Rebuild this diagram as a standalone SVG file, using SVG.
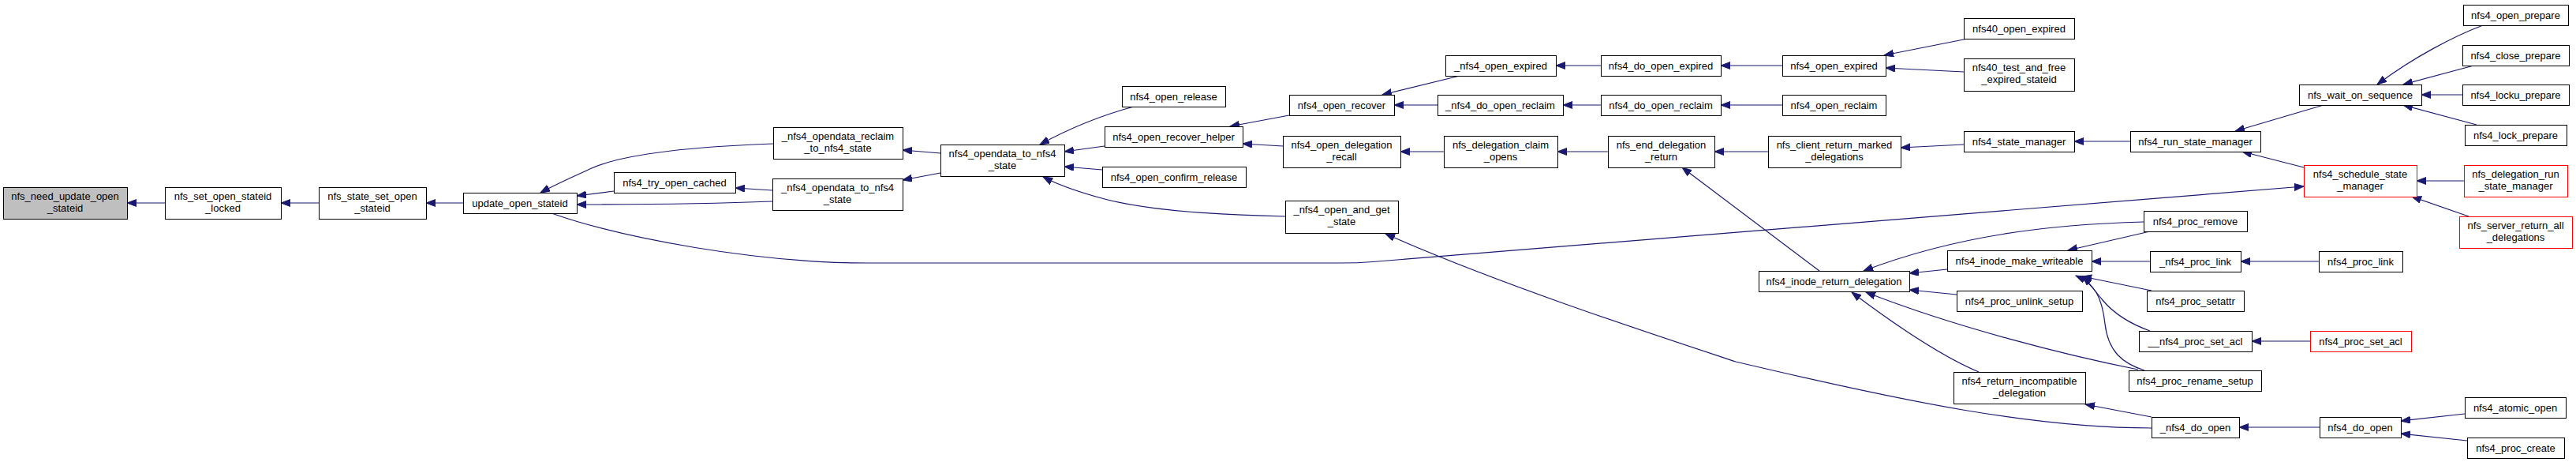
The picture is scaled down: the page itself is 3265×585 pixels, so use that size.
<svg xmlns="http://www.w3.org/2000/svg" width="3265" height="585" viewBox="0 0 3265 585">
<style>
.n rect{fill:#fff;stroke:#000;stroke-width:1}
.g rect{fill:#bfbfbf}
.r rect{stroke:#f00}
text{font-family:"Liberation Sans",Arial,sans-serif;font-size:13px;text-anchor:middle;fill:#000}
.e path{fill:none;stroke:#191970;stroke-width:1.2;marker-end:url(#a)}
</style>
<defs>
<marker id="a" markerUnits="userSpaceOnUse" markerWidth="13" markerHeight="10" refX="12" refY="4.5" orient="auto">
<path d="M0,0 L12,4.5 L0,9 z" fill="#191970" stroke="#191970" stroke-width="1"/>
</marker>
</defs>
<rect width="3265" height="585" fill="#fff"/>
<g id="edges" class="e">
<path d="M209,257 L161,257"/>
<path d="M404,257 L356,257"/>
<path d="M587,257 L540,257"/>
<path d="M980,182 C870,186 790,195 750,213 C730,222 705,233 685,244"/>
<path d="M778,242 L731,248"/>
<path d="M979,255 C880,259 800,259 731,259"/>
<path d="M979,241 L932,238"/>
<path d="M1192,194 L1144,190"/>
<path d="M1192,219 L1144,228"/>
<path d="M1437,135 C1400,145 1360,160 1318,183"/>
<path d="M1400,185 L1349,192"/>
<path d="M1397,215 L1349,211"/>
<path d="M1629,274 C1530,272 1450,265 1400,252 C1370,244 1345,236 1322,224"/>
<path d="M1634,146 L1559,160"/>
<path d="M1626,185 L1575,182"/>
<path d="M1850,96 L1752,120"/>
<path d="M1822,133 L1767,133"/>
<path d="M2029,83 L1972,83"/>
<path d="M2029,133 L1981,133"/>
<path d="M1830,192 L1775,192"/>
<path d="M2038,192 L1974,192"/>
<path d="M2241,192 L2173,192"/>
<path d="M2306,343 L2132,212"/>
<path d="M2259,83 L2181,83"/>
<path d="M2259,133 L2181,133"/>
<path d="M2494,49 L2388,70"/>
<path d="M2489,91 L2390,86"/>
<path d="M2489,183 L2409,187"/>
<path d="M2700,179 L2629,179"/>
<path d="M2945,133 L2833,166"/>
<path d="M2920,212 L2842,192"/>
<path d="M3147,32 C3110,46 3060,72 3013,107"/>
<path d="M3139,82 L3046,107"/>
<path d="M3121,120 L3069,120"/>
<path d="M3139,158 L3046,133"/>
<path d="M3123,229 L3063,229"/>
<path d="M3129,274 L3057,249"/>
<path d="M699,270 C790,302 960,333 1100,333 L1700,333 Q1720,333 1740,331.5 L2920,236"/>
<path d="M2727,542 C2580,542 2420,510 2200,458 C2100,425 1900,360 1756,296"/>
<path d="M2727,528 L2643,512"/>
<path d="M2508,471 C2470,455 2420,425 2347,370"/>
<path d="M2468,341 L2420,346"/>
<path d="M2480,373 L2420,367"/>
<path d="M2710,468 C2620,450 2480,415 2365,370"/>
<path d="M2717,281 C2600,284 2480,298 2362,343"/>
<path d="M2725,293 L2621,317"/>
<path d="M2725,331 L2651,331"/>
<path d="M2727,368 L2639,350"/>
<path d="M2725,419 C2700,410 2680,398 2665,380 C2655,368 2648,358 2640,350"/>
<path d="M2718,469 C2690,460 2672,445 2668,410 C2664,375 2655,360 2631,349"/>
<path d="M2939,331 L2840,331"/>
<path d="M2928,432 L2854,432"/>
<path d="M2940,541 L2838,541"/>
<path d="M3124,524 L3043,533"/>
<path d="M3127,558 L3043,549"/>
</g>
<g id="n0" class="n g"><rect x="4.5" y="237.5" width="157" height="40"/><text x="82.5" y="252.5">nfs_need_update_open</text><text x="82.5" y="267.5">_stateid</text></g>
<g id="n1" class="n"><rect x="209.5" y="237.5" width="147" height="40"/><text x="282.5" y="252.5">nfs_set_open_stateid</text><text x="282.5" y="267.5">_locked</text></g>
<g id="n2" class="n"><rect x="404.5" y="237.5" width="136" height="40"/><text x="472" y="252.5">nfs_state_set_open</text><text x="472" y="267.5">_stateid</text></g>
<g id="n3" class="n"><rect x="587.5" y="244.5" width="144" height="26"/><text x="659" y="261.5">update_open_stateid</text></g>
<g id="n4" class="n"><rect x="778.5" y="218.5" width="154" height="26"/><text x="855" y="235.5">nfs4_try_open_cached</text></g>
<g id="n5" class="n"><rect x="980.5" y="161.5" width="164" height="40"/><text x="1062" y="176.5">_nfs4_opendata_reclaim</text><text x="1062" y="191.5">_to_nfs4_state</text></g>
<g id="n6" class="n"><rect x="979.5" y="226.5" width="165" height="40"/><text x="1061.5" y="241.5">_nfs4_opendata_to_nfs4</text><text x="1061.5" y="256.5">_state</text></g>
<g id="n7" class="n"><rect x="1192.5" y="183.5" width="157" height="40"/><text x="1270.5" y="198.5">nfs4_opendata_to_nfs4</text><text x="1270.5" y="213.5">_state</text></g>
<g id="n8" class="n"><rect x="1422.5" y="109.5" width="131" height="26"/><text x="1487.5" y="126.5">nfs4_open_release</text></g>
<g id="n9" class="n"><rect x="1400.5" y="160.5" width="175" height="26"/><text x="1487.5" y="177.5">nfs4_open_recover_helper</text></g>
<g id="n10" class="n"><rect x="1397.5" y="211.5" width="182" height="26"/><text x="1488" y="228.5">nfs4_open_confirm_release</text></g>
<g id="n11" class="n"><rect x="1634.5" y="120.5" width="133" height="26"/><text x="1700.5" y="137.5">nfs4_open_recover</text></g>
<g id="n12" class="n"><rect x="1626.5" y="172.5" width="149" height="40"/><text x="1700.5" y="187.5">nfs4_open_delegation</text><text x="1700.5" y="202.5">_recall</text></g>
<g id="n13" class="n"><rect x="1629.5" y="254.5" width="143" height="41"/><text x="1700.5" y="269.5">_nfs4_open_and_get</text><text x="1700.5" y="284.5">_state</text></g>
<g id="n14" class="n"><rect x="1832.5" y="70.5" width="140" height="26"/><text x="1902" y="87.5">_nfs4_open_expired</text></g>
<g id="n15" class="n"><rect x="1822.5" y="120.5" width="159" height="26"/><text x="1901.5" y="137.5">_nfs4_do_open_reclaim</text></g>
<g id="n16" class="n"><rect x="1830.5" y="172.5" width="144" height="40"/><text x="1902" y="187.5">nfs_delegation_claim</text><text x="1902" y="202.5">_opens</text></g>
<g id="n17" class="n"><rect x="2029.5" y="70.5" width="152" height="26"/><text x="2105" y="87.5">nfs4_do_open_expired</text></g>
<g id="n18" class="n"><rect x="2029.5" y="120.5" width="152" height="26"/><text x="2105" y="137.5">nfs4_do_open_reclaim</text></g>
<g id="n19" class="n"><rect x="2038.5" y="172.5" width="135" height="40"/><text x="2105.5" y="187.5">nfs_end_delegation</text><text x="2105.5" y="202.5">_return</text></g>
<g id="n20" class="n"><rect x="2259.5" y="70.5" width="131" height="26"/><text x="2324.5" y="87.5">nfs4_open_expired</text></g>
<g id="n21" class="n"><rect x="2259.5" y="120.5" width="131" height="26"/><text x="2324.5" y="137.5">nfs4_open_reclaim</text></g>
<g id="n22" class="n"><rect x="2241.5" y="172.5" width="168" height="40"/><text x="2325" y="187.5">nfs_client_return_marked</text><text x="2325" y="202.5">_delegations</text></g>
<g id="n23" class="n"><rect x="2489.5" y="23.5" width="140" height="26"/><text x="2559" y="40.5">nfs40_open_expired</text></g>
<g id="n24" class="n"><rect x="2489.5" y="74.5" width="140" height="41"/><text x="2559" y="89.5">nfs40_test_and_free</text><text x="2559" y="104.5">_expired_stateid</text></g>
<g id="n25" class="n"><rect x="2489.5" y="166.5" width="140" height="26"/><text x="2559" y="183.5">nfs4_state_manager</text></g>
<g id="n26" class="n"><rect x="2700.5" y="166.5" width="165" height="26"/><text x="2782.5" y="183.5">nfs4_run_state_manager</text></g>
<g id="n27" class="n"><rect x="2914.5" y="107.5" width="155" height="26"/><text x="2991.5" y="124.5">nfs_wait_on_sequence</text></g>
<g id="n28" class="n r"><rect x="2920.5" y="209.5" width="143" height="40"/><text x="2991.5" y="224.5">nfs4_schedule_state</text><text x="2991.5" y="239.5">_manager</text></g>
<g id="n29" class="n"><rect x="3122.5" y="6.5" width="133" height="26"/><text x="3188.5" y="23.5">nfs4_open_prepare</text></g>
<g id="n30" class="n"><rect x="3121.5" y="57.5" width="135" height="26"/><text x="3188.5" y="74.5">nfs4_close_prepare</text></g>
<g id="n31" class="n"><rect x="3121.5" y="107.5" width="135" height="26"/><text x="3188.5" y="124.5">nfs4_locku_prepare</text></g>
<g id="n32" class="n"><rect x="3124.5" y="158.5" width="129" height="26"/><text x="3188.5" y="175.5">nfs4_lock_prepare</text></g>
<g id="n33" class="n r"><rect x="3123.5" y="209.5" width="131" height="40"/><text x="3188.5" y="224.5">nfs_delegation_run</text><text x="3188.5" y="239.5">_state_manager</text></g>
<g id="n34" class="n r"><rect x="3117.5" y="274.5" width="143" height="40"/><text x="3188.5" y="289.5">nfs_server_return_all</text><text x="3188.5" y="304.5">_delegations</text></g>
<g id="n35" class="n"><rect x="2229.5" y="343.5" width="191" height="26"/><text x="2324.5" y="360.5">nfs4_inode_return_delegation</text></g>
<g id="n36" class="n"><rect x="2468.5" y="317.5" width="183" height="26"/><text x="2559.5" y="334.5">nfs4_inode_make_writeable</text></g>
<g id="n37" class="n"><rect x="2480.5" y="368.5" width="159" height="26"/><text x="2559.5" y="385.5">nfs4_proc_unlink_setup</text></g>
<g id="n38" class="n"><rect x="2476.5" y="471.5" width="167" height="40"/><text x="2559.5" y="486.5">nfs4_return_incompatible</text><text x="2559.5" y="501.5">_delegation</text></g>
<g id="n39" class="n"><rect x="2717.5" y="267.5" width="131" height="26"/><text x="2782.5" y="284.5">nfs4_proc_remove</text></g>
<g id="n40" class="n"><rect x="2725.5" y="318.5" width="115" height="26"/><text x="2782.5" y="335.5">_nfs4_proc_link</text></g>
<g id="n41" class="n"><rect x="2939.5" y="318.5" width="106" height="26"/><text x="2992" y="335.5">nfs4_proc_link</text></g>
<g id="n42" class="n"><rect x="2721.5" y="368.5" width="123" height="26"/><text x="2782.5" y="385.5">nfs4_proc_setattr</text></g>
<g id="n43" class="n"><rect x="2711.5" y="419.5" width="143" height="26"/><text x="2782.5" y="436.5">__nfs4_proc_set_acl</text></g>
<g id="n44" class="n r"><rect x="2928.5" y="419.5" width="128" height="26"/><text x="2992" y="436.5">nfs4_proc_set_acl</text></g>
<g id="n45" class="n"><rect x="2698.5" y="469.5" width="168" height="26"/><text x="2782" y="486.5">nfs4_proc_rename_setup</text></g>
<g id="n46" class="n"><rect x="2727.5" y="528.5" width="111" height="26"/><text x="2782.5" y="545.5">_nfs4_do_open</text></g>
<g id="n47" class="n"><rect x="2940.5" y="528.5" width="103" height="26"/><text x="2991.5" y="545.5">nfs4_do_open</text></g>
<g id="n48" class="n"><rect x="3124.5" y="503.5" width="128" height="26"/><text x="3188" y="520.5">nfs4_atomic_open</text></g>
<g id="n49" class="n"><rect x="3127.5" y="554.5" width="123" height="26"/><text x="3188.5" y="571.5">nfs4_proc_create</text></g>
</svg>
